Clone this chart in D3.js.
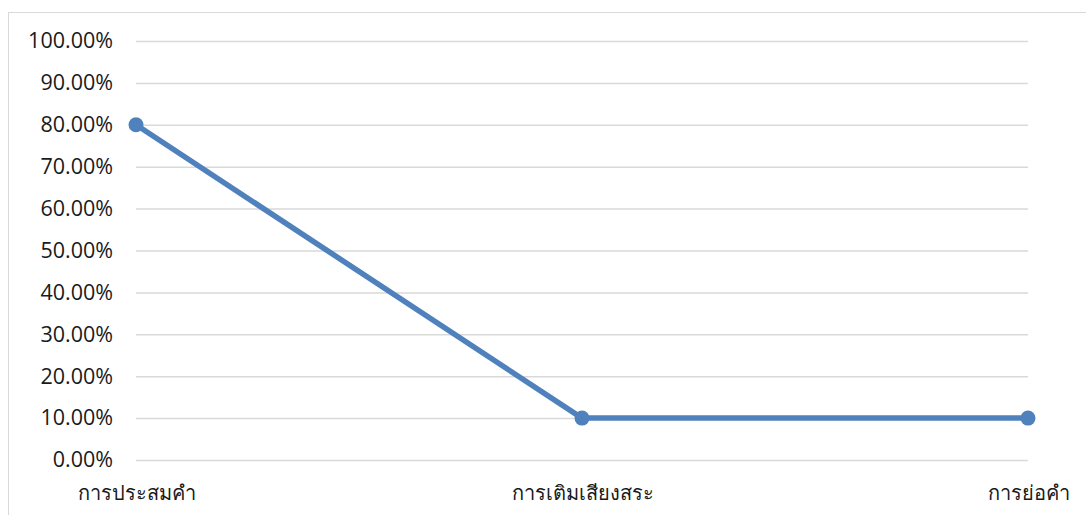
<!DOCTYPE html>
<html><head><meta charset="utf-8">
<script src="https://cdn.jsdelivr.net/npm/d3@7"></script>
<style>body{margin:0;background:#fff;}svg{display:block;}</style>
</head><body>
<svg id="c" width="1086" height="515"></svg>
<script>
const categories = ["การประสมคำ", "การเติมเสียงสระ", "การย่อคำ"];
const values = [0.8, 0.1, 0.1];
const yTicks = [0, 0.1, 0.2, 0.3, 0.4, 0.5, 0.6, 0.7, 0.8, 0.9, 1.0];

const svg = d3.select("#c");
const font = "'Open Sans', 'Noto Sans', sans-serif";
svg.append("rect").attr("x", 8.5).attr("y", 12.5).attr("width", 1100).attr("height", 600)
  .attr("fill", "#fff").attr("stroke", "#d9d9d9").attr("stroke-width", 1);

const x = d3.scalePoint().domain(categories).range([136, 1028]);
const y = d3.scaleLinear().domain([0, 1]).range([460, 41]);

const gy = svg.append("g").attr("transform", "translate(1028,0)")
  .call(d3.axisLeft(y).tickValues(yTicks).tickSize(1028 - 136).tickPadding(23)
    .tickFormat(d => (d * 100).toFixed(2) + "%"));
gy.select(".domain").remove();
gy.selectAll(".tick line").attr("stroke", "#d9d9d9").attr("stroke-width", 1.5);
gy.selectAll(".tick text").attr("font-family", font).attr("font-size", 21.5).attr("fill", "#1a1a1a");

const gx = svg.append("g").attr("transform", "translate(0,460)")
  .call(d3.axisBottom(x).tickSize(0).tickPadding(26));
gx.select(".domain").remove();
gx.selectAll(".tick text").attr("font-family", font).attr("font-size", 20).attr("fill", "#1a1a1a");

const line = d3.line().x((d, i) => x(categories[i])).y(d => y(d));
svg.append("path").datum(values).attr("d", line).attr("fill", "none")
  .attr("stroke", "#4f81bd").attr("stroke-width", 5.5).attr("stroke-linejoin", "round");
svg.selectAll("circle.pt").data(values).join("circle").attr("class", "pt")
  .attr("cx", (d, i) => x(categories[i])).attr("cy", d => y(d)).attr("r", 7.5)
  .attr("fill", "#4f81bd");
</script>
</body></html>
